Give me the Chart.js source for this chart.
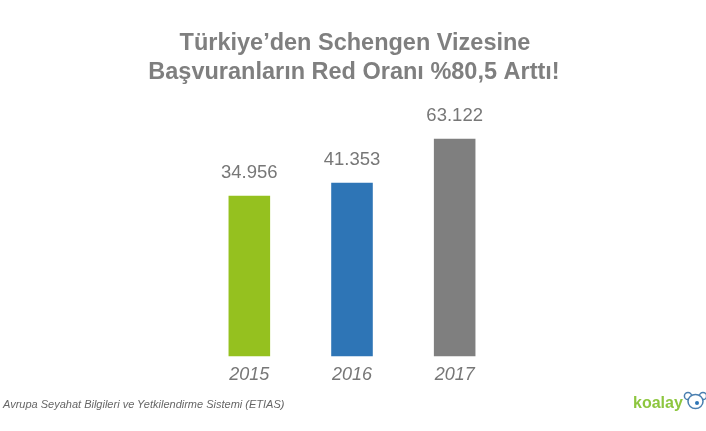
<!DOCTYPE html>
<html>
<head>
<meta charset="utf-8">
<script src="https://cdn.jsdelivr.net/npm/chart.js@4/dist/chart.umd.min.js"></script>
<style>
  body { margin: 0; background: #fff; font-family: Arial, sans-serif; }
  #wrap { position: relative; width: 706px; height: 431px; }
  #source { position: absolute; left: 3px; top: 398px; font-size: 11px; font-style: italic; color: #666; }
  #logo { position: absolute; left: 633px; top: 391px; display: flex; align-items: flex-start; }
  #logo span { font-size: 16px; font-weight: bold; color: #8dc63f; margin-top: 3px; }
</style>
</head>
<body>
<div id="wrap">
  <canvas id="chart"></canvas>
  <div id="source">Avrupa Seyahat Bilgileri ve Yetkilendirme Sistemi (ETIAS)</div>
  <div id="logo"><span>koalay</span>
    <svg width="25" height="20" viewBox="0 0 25 20">
      <circle cx="5" cy="5" r="3.6" fill="#fff" stroke="#4a7fb0" stroke-width="1.5"/>
      <circle cx="20" cy="5" r="3.6" fill="#fff" stroke="#4a7fb0" stroke-width="1.5"/>
      <ellipse cx="12.5" cy="10.5" rx="7.5" ry="7" fill="#fff" stroke="#4a7fb0" stroke-width="1.5"/>
      <circle cx="14" cy="12" r="2" fill="#2e75b6"/>
    </svg>
  </div>
</div>
<script>
const years = ['2015', '2016', '2017'];
const refusals = [34956, 41353, 63122];
const barColors = ['#95c11f', '#2e75b6', '#7f7f7f'];
const titleLines = ['Türkiye’den Schengen Vizesine', 'Başvuranların Red Oranı %80,5 Arttı!'];

const FONT = 'Arial, sans-serif';

function fmt(n) {
  return String(n).replace(/\B(?=(\d{3})+(?!\d))/g, '.');
}

// title across the whole canvas (the built-in one gets squeezed by the side padding)
const wideTitle = {
  id: 'wideTitle',
  afterDraw(chart) {
    const ctx = chart.ctx;
    ctx.save();
    ctx.font = 'bold 23.5px ' + FONT;
    ctx.fillStyle = '#7f7f7f';
    ctx.textAlign = 'center';
    ctx.textBaseline = 'alphabetic';
    ctx.fillText(titleLines[0], 355, 50);
    ctx.fillText(titleLines[1], 354, 78.5);
    ctx.restore();
  }
};

// value labels above the bars
const valueLabels = {
  id: 'valueLabels',
  afterDatasetsDraw(chart) {
    const ctx = chart.ctx;
    const meta = chart.getDatasetMeta(0);
    ctx.save();
    ctx.font = '18.5px ' + FONT;
    ctx.fillStyle = '#777';
    ctx.textAlign = 'center';
    ctx.textBaseline = 'alphabetic';
    meta.data.forEach((bar, i) => {
      ctx.fillText(fmt(refusals[i]), bar.x, bar.y - 18);
    });
    ctx.restore();
  }
};

new Chart(document.getElementById('chart'), {
  type: 'bar',
  data: {
    labels: years,
    datasets: [{
      data: refusals,
      backgroundColor: barColors,
      base: -44720,
      barPercentage: 0.405,
      categoryPercentage: 1
    }]
  },
  options: {
    responsive: true,
    maintainAspectRatio: false,
    animation: false,
    layout: { padding: { left: 198, right: 200, top: 100, bottom: 37 } },
    plugins: {
      legend: { display: false },
      tooltip: { enabled: false },
      title: { display: false }
    },
    scales: {
      x: {
        grid: { display: false, drawTicks: false },
        border: { display: false },
        ticks: { color: '#777', padding: 8, font: { family: FONT, size: 18, style: 'italic' } }
      },
      y: {
        display: false,
        min: -44720,
        max: 82390
      }
    }
  },
  plugins: [valueLabels, wideTitle]
});
</script>
</body>
</html>
